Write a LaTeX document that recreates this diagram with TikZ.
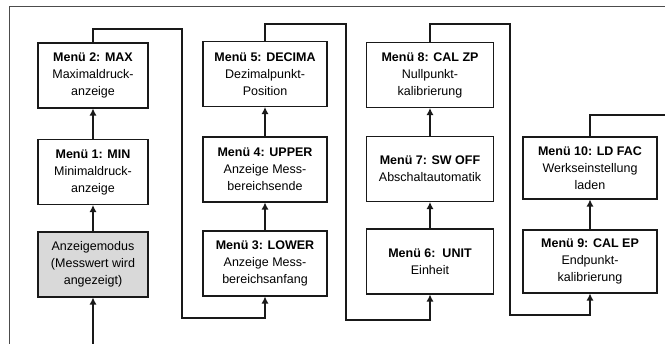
\documentclass[tikz,border=0pt]{standalone}
\usepackage{fontspec}
\setmainfont{Liberation Sans}
\usetikzlibrary{arrows.meta}
\begin{document}
\begin{tikzpicture}[x=1pt,y=-1pt,
  menubox/.style={draw=black!90,line width=1.1pt,fill=white,align=center,inner sep=1pt,
    font=\fontsize{12.5}{17}\selectfont,minimum height=65pt},
  arr/.style={draw=black!90,line width=1.1pt,-{Latex[length=7pt,width=7pt]}},
  wire/.style={draw=black!90,line width=1.1pt}]
\useasboundingbox (0,0) rectangle (665,344);
\fill[white] (0,0) rectangle (665,344);
\draw[black!70,line width=1pt] (9,344) -- (9,7) -- (665,7);
% column 1
\node[menubox,minimum width=110pt] (m2) at (93,75.5) {\textbf{Menü 2: MAX}\\Maximaldruck-\\anzeige};
\node[menubox,minimum width=110pt] (m1) at (93,172) {\textbf{Menü 1: MIN}\\Minimaldruck-\\anzeige};
\node[menubox,minimum width=110pt,fill=black!15] (anz) at (93,264.5) {Anzeigemodus\\(Messwert wird\\angezeigt)};
% column 2
\node[menubox,minimum width=124pt] (m5) at (265,74) {\textbf{Menü 5: DECIMA}\\Dezimalpunkt-\\Position};
\node[menubox,minimum width=124pt] (m4) at (265,169.5) {\textbf{Menü 4: UPPER}\\Anzeige Mess-\\bereichsende};
\node[menubox,minimum width=124pt] (m3) at (265,263.5) {\textbf{Menü 3: LOWER}\\Anzeige Mess-\\bereichsanfang};
% column 3
\node[menubox,minimum width=127pt] (m8) at (430,75) {\textbf{Menü 8: CAL ZP}\\Nullpunkt-\\kalibrierung};
\node[menubox,minimum width=127pt] (m7) at (430,169) {\textbf{Menü 7: SW OFF}\\Abschaltautomatik};
\node[menubox,minimum width=127pt] (m6) at (430,261.5) {\textbf{Menü 6:\ \ UNIT}\\Einheit};
% column 4
\node[menubox,minimum width=134pt,minimum height=62pt] (m10) at (590,168) {\textbf{Menü 10: LD FAC}\\Werkseinstellung\\laden};
\node[menubox,minimum width=134pt,minimum height=63pt] (m9) at (590,261.5) {\textbf{Menü 9: CAL EP}\\Endpunkt-\\kalibrierung};
% coordinates
\coordinate (in) at (93,344);
\coordinate (l1a) at (182,29);
\coordinate (l1b) at (182,318);
\coordinate (l2a) at (346,24);
\coordinate (l2b) at (346,320);
\coordinate (l3a) at (510,24);
\coordinate (l3b) at (510,315);
\coordinate (out) at (665,115);
% connectors
\draw[arr] (in) -- (anz.south);
\draw[arr] (anz) -- (m1);
\draw[arr] (m1) -- (m2);
\draw[arr] (m2.north) |- (l1a) -- (l1b) -| (m3.south);
\draw[arr] (m3) -- (m4);
\draw[arr] (m4) -- (m5);
\draw[arr] (m5.north) |- (l2a) -- (l2b) -| (m6.south);
\draw[arr] (m6) -- (m7);
\draw[arr] (m7) -- (m8);
\draw[arr] (m8.north) |- (l3a) -- (l3b) -| (m9.south);
\draw[arr] (m9) -- (m10);
\draw[wire] (m10.north) |- (out);
\end{tikzpicture}
\end{document}
